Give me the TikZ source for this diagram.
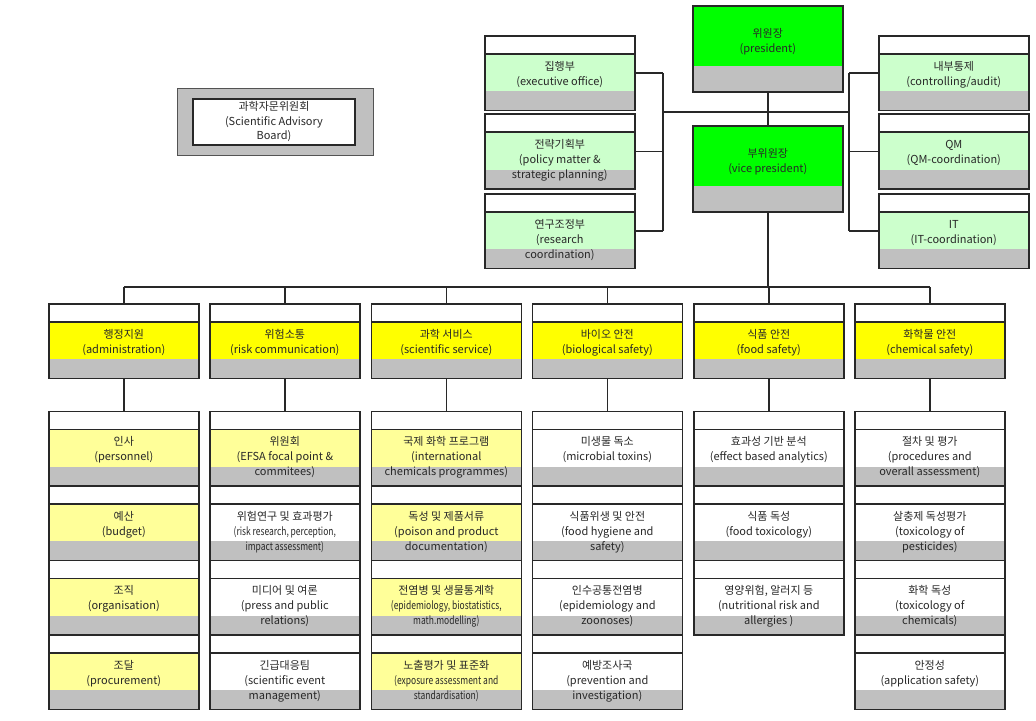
\documentclass[tikz,border=0pt]{standalone}
\usepackage{fontspec}
\setmainfont{Noto Sans CJK KR}
\usepackage{graphicx}
\usepackage{tikz}
\usetikzlibrary{calc}
\definecolor{chiefgreen}{RGB}{0,255,0}
\definecolor{staffgreen}{RGB}{204,255,204}
\definecolor{deptyellow}{RGB}{255,255,0}
\definecolor{paleyellow}{RGB}{255,255,153}
\definecolor{band}{RGB}{192,192,192}
\definecolor{ink}{RGB}{40,40,40}
\newcommand{\unittext}[1]{\begin{minipage}[c][74.5bp][t]{150bp}\centering\vspace*{24.3bp}\rule{0pt}{10bp}#1\end{minipage}}
\newcommand{\chieftext}[1]{\begin{minipage}[c][86bp][t]{150bp}\centering\vspace*{21.8bp}\rule{0pt}{10bp}#1\end{minipage}}
\newcommand{\tight}[1]{\scalebox{0.77}[1]{#1}}
\tikzstyle{edge}=[draw,line width=1.4bp,ink]
\tikzstyle{board frame}=[rectangle,draw=ink!80,line width=0.8bp,fill=band,minimum width=196bp,minimum height=67bp]
\tikzstyle{board}=[rectangle,draw=ink,line width=1.7bp,fill=white,minimum width=162bp,minimum height=46bp,inner sep=0pt,align=center,text=ink,font=\fontsize{11bp}{14.5bp}\selectfont]
\tikzset{
  unit/.style={rectangle,draw=ink,line width=1.6bp,inner sep=0pt,text=ink,
    font=\fontsize{11bp}{15bp}\selectfont,
    path picture={
      \fill[white] (path picture bounding box.north west) rectangle ([yshift=-18bp]path picture bounding box.north east);
      \fill[#1] ([yshift=-18bp]path picture bounding box.north west) rectangle ([yshift=19bp]path picture bounding box.south east);
      \fill[band] ([yshift=19bp]path picture bounding box.south west) rectangle (path picture bounding box.south east);
      \draw[ink,line width=1.6bp] ([yshift=-18bp]path picture bounding box.north west) -- ([yshift=-18bp]path picture bounding box.north east);
    }},
  chief/.style={rectangle,draw=ink,line width=1.6bp,inner sep=0pt,text=ink,
    font=\fontsize{11bp}{15bp}\selectfont,
    path picture={
      \fill[chiefgreen] (path picture bounding box.north west) rectangle ([yshift=26bp]path picture bounding box.south east);
      \fill[band] ([yshift=26bp]path picture bounding box.south west) rectangle (path picture bounding box.south east);
    }}
}

\begin{document}
\begin{tikzpicture}[x=1bp,y=-1bp]
    \useasboundingbox[fill=white] (0,0) rectangle (1036,721);
    % the advisory board stands apart
    \node[board frame] (sabframe) at (275,121.5) {};
    \node[board] (sab) at (274,122) {과학자문위원회\\(Scientific Advisory\\Board)};

    % president and vice president
    \foreach \pos/\name/\txt in {{(692,5)/pres/{위원장\\(president)}}, {(692,125)/vice/{부위원장\\(vice president)}}}
        \node[chief,anchor=north west] (\name) at \pos {\chieftext{\txt}};

    % staff units on both sides
    \foreach \pos/\name/\txt in {{(484,35)/exec/{집행부\\(executive office)}}, {(484,113.5)/policy/{전략기획부\\(policy matter \&\\strategic planning)}}, {(484,193)/research/{연구조정부\\(research\\coordination)}},
        {(878,35)/audit/{내부통제\\(controlling/audit)}}, {(878,113.5)/qm/{QM\\(QM-coordination)}}, {(878,193)/it/{IT\\(IT-coordination)}}}
        \node[unit=staffgreen,anchor=north west] (\name) at \pos {\unittext{\txt}};

    % the six departments
    \foreach \pos/\name/\txt in {{(48,303)/admin/{행정지원\\(administration)}}, {(209,303)/riskcom/{위험소통\\(risk communication)}}, {(370.5,303)/scisvc/{과학 서비스\\(scientific service)}},
        {(531.5,303)/biosafe/{바이오 안전\\(biological safety)}}, {(693,303)/foodsafe/{식품 안전\\(food safety)}}, {(854,303)/chemsafe/{화학물 안전\\(chemical safety)}}}
        \node[unit=deptyellow,anchor=north west] (\name) at \pos {\unittext{\txt}};

    % units below each department
    \foreach \pos/\name/\col/\txt in {
        {(48,410.5)/personnel/paleyellow/{인사\\(personnel)}}, {(48,485)/budget/paleyellow/{예산\\(budget)}},
        {(48,559.5)/organisation/paleyellow/{조직\\(organisation)}}, {(48,634)/procurement/paleyellow/{조달\\(procurement)}},
        {(209,410.5)/committees/paleyellow/{위원회\\(EFSA focal point \&\\commitees)}},
        {(209,485)/riskresearch/white/{위험연구 및 효과평가\\\tight{(risk research, perception,}\\\tight{impact assessment)}}},
        {(209,559.5)/press/white/{미디어 및 여론\\(press and public\\relations)}}, {(209,634)/event/white/{긴급대응팀\\(scientific event\\management)}},
        {(370.5,410.5)/intchem/paleyellow/{국제 화학 프로그램\\(international\\chemicals programmes)}},
        {(370.5,485)/poison/paleyellow/{독성 및 제품서류\\(poison and product\\documentation)}},
        {(370.5,559.5)/epistat/paleyellow/{전염병 및 생물통계학\\\tight{(epidemiology, biostatistics,}\\\tight{math.modelling)}}},
        {(370.5,634)/exposure/paleyellow/{노출평가 및 표준화\\\tight{(exposure assessment and}\\\tight{standardisation)}}},
        {(531.5,410.5)/microbial/white/{미생물 독소\\(microbial toxins)}}, {(531.5,485)/hygiene/white/{식품위생 및 안전\\(food hygiene and\\safety)}},
        {(531.5,559.5)/zoonoses/white/{인수공통전염병\\(epidemiology and\\zoonoses)}}, {(531.5,634)/prevention/white/{예방조사국\\(prevention and\\investigation)}},
        {(693,410.5)/effect/white/{효과성 기반 분석\\(effect based analytics)}}, {(693,485)/foodtox/white/{식품 독성\\(food toxicology)}},
        {(693,559.5)/nutrition/white/{영양위험, 알러지 등\\(nutritional risk and\\allergies )}},
        {(854,410.5)/procedures/white/{절차 및 평가\\(procedures and\\overall assessment)}}, {(854,485)/pesticides/white/{살충제 독성평가\\(toxicology of\\pesticides)}},
        {(854,559.5)/chemtox/white/{화학 독성\\(toxicology of\\chemicals)}}, {(854,634)/application/white/{안정성\\(application safety)}}}
        \node[unit=\col,anchor=north west] (\name) at \pos {\unittext{\txt}};

    % lines of the top
    \coordinate (lbracket) at (663,112);
    \coordinate (rbracket) at (849,112);
    \coordinate (bus) at (0,287);
    \path[edge] (pres) -- (vice);
    \path[edge] (lbracket) -- (rbracket);
    \foreach \n in {exec,policy,research}
        \path[edge] (\n.east) -- (\n.east -| lbracket);
    \foreach \n in {audit,qm,it}
        \path[edge] (\n.west) -- (\n.west -| rbracket);
    \path[edge] (exec.east -| lbracket) -- (research.east -| lbracket);
    \path[edge] (audit.west -| rbracket) -- (it.west -| rbracket);

    % bus to the departments
    \path[edge] (vice.south) -- (vice.south |- bus);
    \path[edge] (admin.north |- bus) -- (chemsafe.north |- bus);
    \foreach \dept/\first in {admin/personnel, riskcom/committees, scisvc/intchem, biosafe/microbial, foodsafe/effect, chemsafe/procedures} {
        \path[edge] (\dept.north |- bus) -- (\dept.north);
        \path[edge] (\dept) -- (\first);
    }
\end{tikzpicture}
\end{document}
